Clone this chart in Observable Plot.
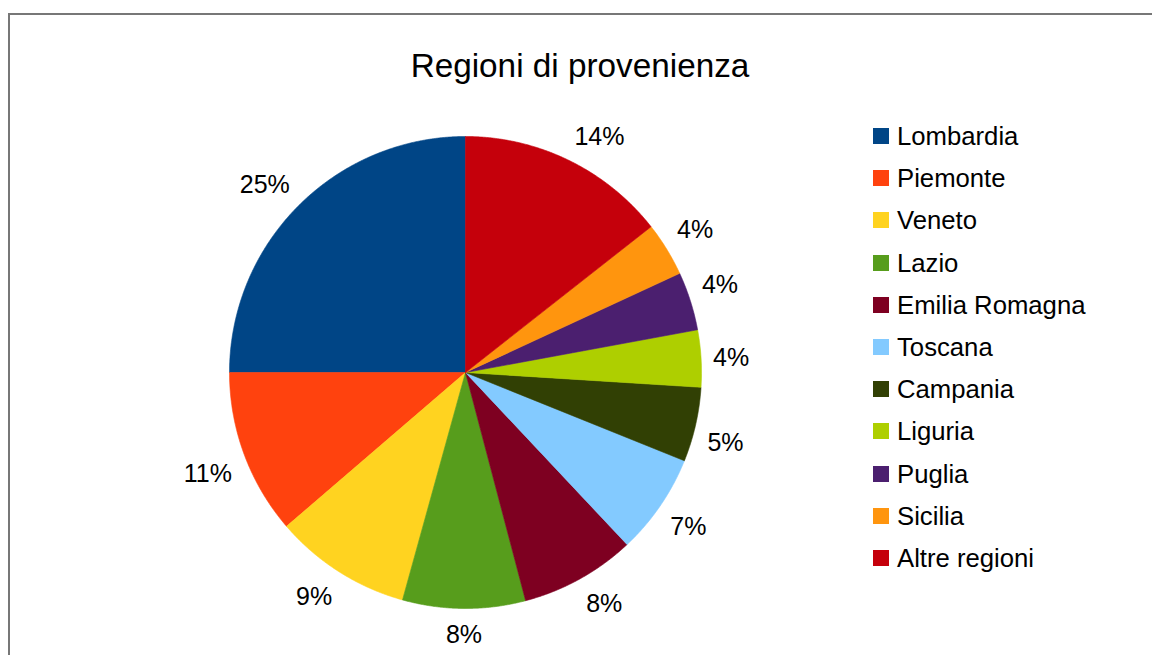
<!DOCTYPE html>
<html>
<head>
<meta charset="utf-8">
<script src="https://cdn.jsdelivr.net/npm/d3@7"></script>
<script src="https://cdn.jsdelivr.net/npm/@observablehq/plot@0.6"></script>
<style>
  html, body { margin: 0; padding: 0; background: #fff; }
  #wrap { position: relative; width: 1152px; height: 655px; overflow: hidden; background: #fff;
          font-family: "Liberation Sans", Arial, sans-serif; }
  #frame { position: absolute; left: 8px; top: 13px; width: 1300px; height: 800px;
           border: 2px solid #777; box-sizing: border-box; }
  #title { position: absolute; left: 330px; width: 500px; top: 49px; text-align: center;
           font-size: 33.3px; line-height: 33px; color: #000; }
  #chart { position: absolute; left: 0; top: 0; }
  #legend { position: absolute; left: 873px; top: 115px; }
  .row { display: flex; align-items: center; height: 42.2px; font-size: 25.7px; line-height: 26px; color: #000; }
  .sw { width: 16px; height: 16px; margin-right: 8px; flex: none; }
</style>
</head>
<body>
<div id="wrap">
  <div id="frame"></div>
  <div id="chart"></div>
  <div id="title">Regioni di provenienza</div>
  <div id="legend"></div>
</div>
<script>
const regions = ["Lombardia", "Piemonte", "Veneto", "Lazio", "Emilia Romagna", "Toscana",
                 "Campania", "Liguria", "Puglia", "Sicilia", "Altre regioni"];
const shares = [25.0, 11.3, 9.4, 8.4, 7.9, 6.9, 5.1, 3.9, 4.0, 3.7, 14.4];
const colors = ["#004586", "#ff420e", "#ffd320", "#579d1c", "#7e0021", "#83caff",
                "#314004", "#aecf00", "#4b1f6f", "#ff950e", "#c5000b"];

const R = 236; // pie radius in px
const arcs = d3.pie().sort(null).value(d => d)(shares);

// slice polygons (unit circle, counter-clockwise from 12 o'clock)
const slicePts = [];
arcs.forEach((p, i) => {
  const n = Math.max(2, Math.ceil((p.endAngle - p.startAngle) / 0.004));
  slicePts.push({region: regions[i], x: 0, y: 0});
  for (let k = 0; k <= n; k++) {
    const a = p.startAngle + (p.endAngle - p.startAngle) * k / n;
    slicePts.push({region: regions[i], x: -Math.sin(a), y: Math.cos(a)});
  }
  slicePts.push({region: regions[i], x: 0, y: 0});
});

// labels outside: the label box corner nearest the pie touches a point just outside the rim
const labels = arcs.map((p, i) => {
  const a = (p.startAngle + p.endAngle) / 2;
  const dx = -Math.sin(a), dy = Math.cos(a);
  const text = Math.round(shares[i]) + "%";
  const hw = (String(Math.round(shares[i])).length * 0.556 + 0.889) * 25 / 2;
  const ox = Math.abs(dx) < 0.09 ? 0 : Math.sign(dx) * (hw + 1);
  const oy = Math.abs(dy) < 0.09 ? 0 : (dy > 0 ? 13 : -15.5);
  return {text, x: (dx * (R + 11) + ox) / R, y: (dy * (R + 11) + oy) / R};
});

const plot = Plot.plot({
  width: 1152,
  height: 655,
  marginLeft: 229,
  marginRight: 1152 - 229 - 2 * R,
  marginTop: 136,
  marginBottom: 655 - 136 - 2 * R,
  x: {domain: [-1, 1], axis: null},
  y: {domain: [-1, 1], axis: null},
  color: {domain: regions, range: colors},
  style: {background: "transparent", fontFamily: "Liberation Sans, Arial, sans-serif"},
  marks: [
    Plot.line(slicePts, {x: "x", y: "y", z: "region", fill: "region", stroke: "region",
                         strokeWidth: 0.6, curve: "linear"}),
    Plot.text(labels, {x: "x", y: "y", text: "text", fontSize: 25, fill: "#000",
                       textAnchor: "middle", lineAnchor: "middle"})
  ]
});
document.getElementById("chart").appendChild(plot);

const legend = document.getElementById("legend");
regions.forEach((r, i) => {
  const row = document.createElement("div");
  row.className = "row";
  const sw = document.createElement("div");
  sw.className = "sw";
  sw.style.background = colors[i];
  const t = document.createElement("span");
  t.textContent = r;
  row.appendChild(sw);
  row.appendChild(t);
  legend.appendChild(row);
});
</script>
</body>
</html>
